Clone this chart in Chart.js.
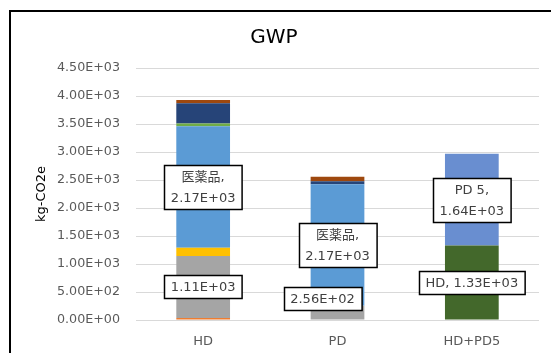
<!DOCTYPE html>
<html>
<head>
<meta charset="utf-8">
<script src="https://cdn.jsdelivr.net/npm/chart.js@4.4.1/dist/chart.umd.min.js"></script>
<style>
  html, body { margin: 0; padding: 0; background: #ffffff; }
  #c { display: block; }
</style>
</head>
<body>
<canvas id="c" width="551" height="353"></canvas>
<script>
// Categories on the x axis
const categories = ['HD', 'PD', 'HD+PD5'];

// Stacked contributions, kg-CO2e (bottom to top)
const item1Vals = [35, 0, 0];
const item2Vals = [1110, 256, 0];
const item3Vals = [145, 0, 0];
const medicineVals = [2170, 2170, 0];
const item5Vals = [50, 0, 0];
const item6Vals = [360, 50, 0];
const item7Vals = [60, 80, 0];
const hdVals = [0, 0, 1330];
const pd5Vals = [0, 0, 1640];

// Y axis tick values
const yTicks = [0, 500, 1000, 1500, 2000, 2500, 3000, 3500, 4000, 4500];

const FONT = "'DejaVu Sans', 'Noto Sans CJK JP', sans-serif";

function sci(v) {
  const parts = Number(v).toExponential(2).split('e');
  const n = parseInt(parts[1], 10);
  return parts[0] + 'E' + (n < 0 ? '-' : '+') + String(Math.abs(n)).padStart(2, '0');
}

// Callout labels: dataset index, category index, whether to prefix the series name
const callouts = [
  { ds: 3, i: 0, name: true, wrap: true },
  { ds: 1, i: 0 },
  { ds: 3, i: 1, name: true, wrap: true },
  { ds: 1, i: 1, dx: -15, dy: -14.5 },
  { ds: 8, i: 2, name: true, wrap: true },
  { ds: 7, i: 2, name: true, wrap: false }
];

const framePlugin = {
  id: 'frame',
  beforeDraw(chart) {
    const ctx = chart.ctx;
    ctx.save();
    ctx.fillStyle = '#ffffff';
    ctx.fillRect(0, 0, chart.width, chart.height);
    ctx.strokeStyle = '#000000';
    ctx.lineWidth = 2;
    ctx.beginPath();
    ctx.moveTo(10, chart.height);
    ctx.lineTo(10, 11);
    ctx.lineTo(chart.width, 11);
    ctx.stroke();
    ctx.restore();
  }
};

const calloutPlugin = {
  id: 'callouts',
  afterDatasetsDraw(chart) {
    const ctx = chart.ctx;
    ctx.save();
    ctx.font = '13px ' + FONT;
    ctx.textAlign = 'center';
    ctx.textBaseline = 'middle';
    const lineH = 21, padX = 6.5, padY = 1;
    callouts.forEach(c => {
      const ds = chart.data.datasets[c.ds];
      const el = chart.getDatasetMeta(c.ds).data[c.i];
      const val = sci(ds.data[c.i]);
      let lines;
      if (c.name) lines = c.wrap ? [ds.label + ',', val] : [ds.label + ', ' + val];
      else lines = [val];
      const w = Math.max(...lines.map(t => ctx.measureText(t).width)) + padX * 2;
      const h = lines.length * lineH + padY * 2;
      const cx = el.x + (c.dx || 0);
      const cy = (el.y + el.base) / 2 + (c.dy || 0);
      const x0 = Math.round(cx - w / 2) + 0.5, y0 = Math.round(cy - h / 2) + 0.5;
      ctx.fillStyle = '#ffffff';
      ctx.fillRect(x0, y0, w, h);
      ctx.strokeStyle = '#000000';
      ctx.lineWidth = 1.5;
      ctx.strokeRect(x0, y0, w, h);
      ctx.fillStyle = '#404040';
      lines.forEach((t, k) => {
        ctx.fillText(t, cx, y0 + padY + lineH * (k + 0.5) + 0.5);
      });
    });
    ctx.restore();
  }
};

new Chart(document.getElementById('c'), {
  type: 'bar',
  data: {
    labels: categories,
    datasets: [
      { label: '項目1', data: item1Vals, backgroundColor: '#ED7D31' },
      { label: '項目2', data: item2Vals, backgroundColor: '#A5A5A5' },
      { label: '項目3', data: item3Vals, backgroundColor: '#FFC000' },
      { label: '医薬品', data: medicineVals, backgroundColor: '#5B9BD5' },
      { label: '項目5', data: item5Vals, backgroundColor: '#70AD47' },
      { label: '項目6', data: item6Vals, backgroundColor: '#264478' },
      { label: '項目7', data: item7Vals, backgroundColor: '#9E480E' },
      { label: 'HD', data: hdVals, backgroundColor: '#43682B' },
      { label: 'PD 5', data: pd5Vals, backgroundColor: '#698ED0' }
    ]
  },
  options: {
    responsive: false,
    animation: false,
    devicePixelRatio: 1,
    layout: { padding: { left: 9, right: 12, top: 0, bottom: 0 } },
    datasets: { bar: { categoryPercentage: 1, barPercentage: 0.4, borderWidth: 0 } },
    plugins: {
      legend: { display: false },
      tooltip: { enabled: false },
      title: {
        display: true,
        text: 'GWP',
        color: '#000000',
        font: { family: FONT, size: 20, weight: 'normal' },
        padding: { top: 26, bottom: 18 }
      }
    },
    scales: {
      x: {
        stacked: true,
        grid: { display: false },
        border: { display: false },
        ticks: { color: '#595959', font: { family: FONT, size: 13 }, padding: 6 },
        afterFit(scale) { scale.height = 33; }
      },
      y: {
        stacked: true,
        min: yTicks[0],
        max: yTicks[yTicks.length - 1],
        afterBuildTicks(scale) { scale.ticks = yTicks.map(v => ({ value: v })); },
        grid: { color: '#D9D9D9', lineWidth: 1, drawTicks: false },
        border: { display: false },
        ticks: {
          color: '#595959',
          font: { family: FONT, size: 12.7 },
          padding: 16,
          callback: v => sci(v)
        },
        title: {
          display: true,
          text: 'kg-CO2e',
          color: '#000000',
          font: { family: FONT, size: 13 },
          padding: { top: 25, bottom: 0 }
        },
        afterFit(scale) { scale.width = 127; }
      }
    }
  },
  plugins: [framePlugin, calloutPlugin]
});
</script>
</body>
</html>
